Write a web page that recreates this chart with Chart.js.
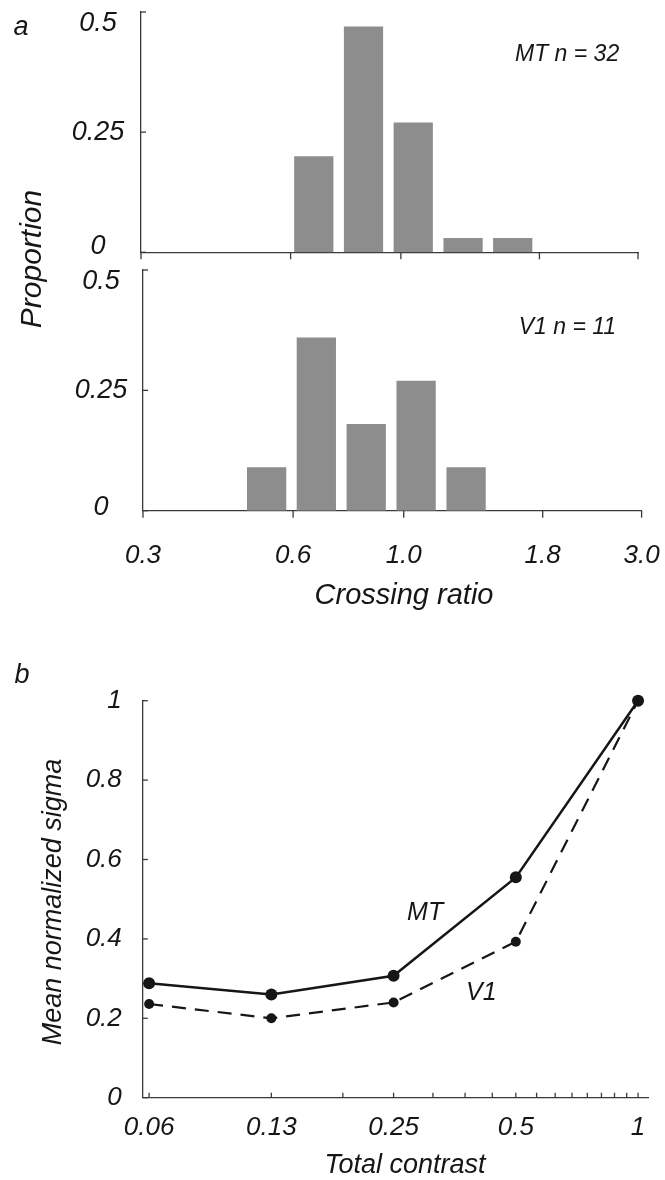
<!DOCTYPE html>
<html>
<head>
<meta charset="utf-8">
<script src="https://cdn.jsdelivr.net/npm/chart.js@4.4.1/dist/chart.umd.min.js"></script>
<style>
  html, body { margin: 0; padding: 0; background: #ffffff; }
  #page { position: relative; width: 665px; height: 1180px; overflow: hidden; }
  canvas { position: absolute; left: 0; }
</style>
</head>
<body>
<div id="page">
  <canvas id="mtHist" width="665" height="345" style="top:0px"></canvas>
  <canvas id="v1Hist" width="665" height="358" style="top:262px"></canvas>
  <canvas id="sigmaPlot" width="665" height="540" style="top:640px"></canvas>
</div>
<script>
// ---- Panel a: distribution of crossing ratios (log-spaced bins) ----
const mtBins = [0.668, 0.841, 1.059, 1.334, 1.679];
const mtProportion = [0.20, 0.47, 0.27, 0.03, 0.03];
const v1Bins = [0.531, 0.668, 0.841, 1.059, 1.334];
const v1Proportion = [0.09, 0.36, 0.18, 0.27, 0.09];
const ratioTickValues = [0.3, 0.6, 1.0, 1.9, 3.0];
const ratioTickLabels = ['0.3', '0.6', '1.0', '1.8', '3.0'];
const proportionTicks = [0, 0.25, 0.5];
const proportionLabels = ['0', '0.25', '0.5'];

// ---- Panel b: mean normalized sigma against total contrast ----
const contrast = [0.0625, 0.125, 0.25, 0.5, 1];
const contrastLabels = ['0.06', '0.13', '0.25', '0.5', '1'];
const contrastMinorTicks = [0.0625, 0.125, 0.1875, 0.25, 0.3125, 0.375, 0.4375, 0.5,
                            0.5625, 0.625, 0.6875, 0.75, 0.8125, 0.875, 0.9375, 1];
const mtSigma = [0.288, 0.260, 0.307, 0.555, 1.0];
const v1Sigma = [0.236, 0.200, 0.240, 0.393, 1.0];
const sigmaTicks = [0, 0.2, 0.4, 0.6, 0.8, 1];
const sigmaLabels = ['0', '0.2', '0.4', '0.6', '0.8', '1'];

const FONT = "'Liberation Sans', Arial, Helvetica, sans-serif";
const INK = '#161616';
const AXIS = '#3a3a3a';
const BAR = '#8d8d8d';
const CLEAR = 'rgba(0,0,0,0)';

// Tick marks, centred y labels for the histograms and free text notes.
const axisDecor = {
  id: 'axisDecor',
  afterDraw(chart, _args, o) {
    const ctx = chart.ctx;
    ctx.save();
    ctx.strokeStyle = AXIS;
    ctx.lineWidth = 1.3;
    (o.marks || []).forEach(m => {
      const s = chart.scales[m.axis];
      s.ticks.forEach(t => {
        const p = s.getPixelForValue(t.value);
        ctx.beginPath();
        if (s.isHorizontal()) {
          ctx.moveTo(p, s.top); ctx.lineTo(p, s.top + m.len);
        } else {
          ctx.moveTo(s.right, p); ctx.lineTo(s.right + m.len, p);
        }
        ctx.stroke();
      });
    });
    ctx.fillStyle = INK;
    ctx.textBaseline = 'middle';
    if (o.yLabels) {
      const s = chart.scales.y, L = o.yLabels, n = s.ticks.length;
      ctx.font = `italic ${L.size}px ${FONT}`;
      ctx.textAlign = 'center';
      s.ticks.forEach((t, i) => {
        let dy = 0;
        if (i === 0) dy = L.endInset[0];
        if (i === n - 1) dy = L.endInset[1];
        ctx.fillText(L.labels[i], L.x, s.getPixelForValue(t.value) + dy);
      });
    }
    (o.notes || []).forEach(n => {
      ctx.font = `italic ${n.size}px ${FONT}`;
      ctx.textAlign = 'center';
      let x = n.x, y = n.y;
      if (n.data) {
        x = chart.scales.x.getPixelForValue(n.x);
        y = chart.scales.y.getPixelForValue(n.y);
      }
      ctx.save();
      ctx.translate(x, y);
      if (n.rotate) ctx.rotate(n.rotate);
      ctx.fillText(n.text, 0, 0);
      ctx.restore();
    });
    ctx.restore();
  }
};

function histogram(canvasId, bins, values, frame, extra) {
  return new Chart(document.getElementById(canvasId), {
    type: 'bar',
    data: {
      datasets: [{
        data: bins.map((b, i) => ({ x: b, y: values[i] })),
        backgroundColor: BAR,
        borderWidth: 0,
        categoryPercentage: 1,
        barPercentage: 0.79
      }]
    },
    options: {
      responsive: false,
      animation: false,
      events: [],
      layout: { padding: { top: frame.top, right: frame.right, left: 0, bottom: 0 } },
      plugins: {
        legend: { display: false },
        tooltip: { enabled: false },
        axisDecor: {
          marks: [{ axis: 'x', len: 7 }, { axis: 'y', len: 5 }],
          yLabels: { labels: proportionLabels, x: frame.labelX, size: 27, endInset: frame.endInset },
          notes: extra.notes
        }
      },
      scales: {
        x: {
          type: 'logarithmic',
          min: 0.3,
          max: 3.0,
          offset: false,
          afterBuildTicks: s => { s.ticks = ratioTickValues.map(v => ({ value: v })); },
          afterFit: s => { s.height = frame.xHeight; },
          // invisible tick length sets the gap between axis and labels
          grid: { display: true, drawOnChartArea: false, drawTicks: true, tickLength: 28, tickColor: CLEAR, color: CLEAR },
          border: { display: true, color: AXIS, width: 1.3 },
          ticks: {
            display: extra.showXLabels,
            autoSkip: false,
            maxRotation: 0,
            padding: 1,
            color: INK,
            font: { family: FONT, size: 26, style: 'italic' },
            callback: (v, i) => ratioTickLabels[i]
          }
        },
        y: {
          min: 0,
          max: 0.5,
          afterBuildTicks: s => { s.ticks = proportionTicks.map(v => ({ value: v })); },
          afterFit: s => { s.width = frame.left; },
          grid: { display: false },
          border: { display: true, color: AXIS, width: 1.3 },
          ticks: { display: false }
        }
      }
    },
    plugins: [axisDecor]
  });
}

histogram('mtHist', mtBins, mtProportion,
  { top: 12, right: 27, left: 141, xHeight: 92.7, labelX: 98, endInset: [-6, 11] },
  {
    showXLabels: false,
    notes: [
      { text: 'a', x: 21, y: 27, size: 27 },
      { text: 'MT n = 32', x: 2.16, y: 0.411, data: true, size: 23 },
      { text: 'Proportion', x: 33, y: 259, size: 30, rotate: -Math.PI / 2 }
    ]
  });

histogram('v1Hist', v1Bins, v1Proportion,
  { top: 8, right: 23.4, left: 143, xHeight: 109.3, labelX: 101, endInset: [-3, 11] },
  {
    showXLabels: true,
    notes: [
      { text: 'V1 n = 11', x: 2.13, y: 0.38, data: true, size: 23 },
      { text: 'Crossing ratio', x: 404, y: 334, size: 29 }
    ]
  });

new Chart(document.getElementById('sigmaPlot'), {
  type: 'line',
  data: {
    datasets: [
      {
        label: 'V1',
        data: contrast.map((c, i) => ({ x: c, y: v1Sigma[i] })),
        borderColor: INK,
        borderWidth: 2.2,
        borderDash: [14, 9],
        pointRadius: 5,
        pointBackgroundColor: INK,
        pointBorderWidth: 0,
        tension: 0,
        clip: false
      },
      {
        label: 'MT',
        data: contrast.map((c, i) => ({ x: c, y: mtSigma[i] })),
        borderColor: INK,
        borderWidth: 2.5,
        pointRadius: 6,
        pointBackgroundColor: INK,
        pointBorderWidth: 0,
        tension: 0,
        clip: false
      }
    ]
  },
  options: {
    responsive: false,
    animation: false,
    events: [],
    layout: { padding: { top: 60.7, right: 17, left: 0, bottom: 0 } },
    plugins: {
      legend: { display: false },
      tooltip: { enabled: false },
      axisDecor: {
        marks: [{ axis: 'x', len: -5 }, { axis: 'y', len: 5 }],
        notes: [
          { text: 'b', x: 22, y: 35, size: 27 },
          { text: 'MT', x: 0.299, y: 0.465, data: true, size: 25 },
          { text: 'V1', x: 0.411, y: 0.264, data: true, size: 25 },
          { text: 'Total contrast', x: 405, y: 525, size: 27 },
          { text: 'Mean normalized sigma', x: 53, y: 262, size: 27, rotate: -Math.PI / 2 }
        ]
      }
    },
    scales: {
      x: {
        type: 'logarithmic',
        min: 0.0603,
        max: 1.058,
        afterBuildTicks: s => { s.ticks = contrastMinorTicks.map(v => ({ value: v })); },
        afterFit: s => { s.height = 82.3; },
        grid: { display: true, drawOnChartArea: false, drawTicks: true, tickLength: 13, tickColor: CLEAR, color: CLEAR },
        border: { display: true, color: AXIS, width: 1.3 },
        ticks: {
          autoSkip: false,
          maxRotation: 0,
          padding: 1,
          color: INK,
          font: { family: FONT, size: 26, style: 'italic' },
          callback: v => {
            const k = contrast.findIndex(c => Math.abs(c - v) < 1e-6);
            return k >= 0 ? contrastLabels[k] : '';
          }
        }
      },
      y: {
        min: 0,
        max: 1,
        afterBuildTicks: s => { s.ticks = sigmaTicks.map(v => ({ value: v })); },
        afterFit: s => { s.width = 142.8; },
        grid: { display: false },
        border: { display: true, color: AXIS, width: 1.3 },
        ticks: {
          padding: 13,
          color: INK,
          font: { family: FONT, size: 26, style: 'italic' },
          callback: (v, i) => sigmaLabels[i]
        }
      }
    }
  },
  plugins: [axisDecor]
});
</script>
</body>
</html>
